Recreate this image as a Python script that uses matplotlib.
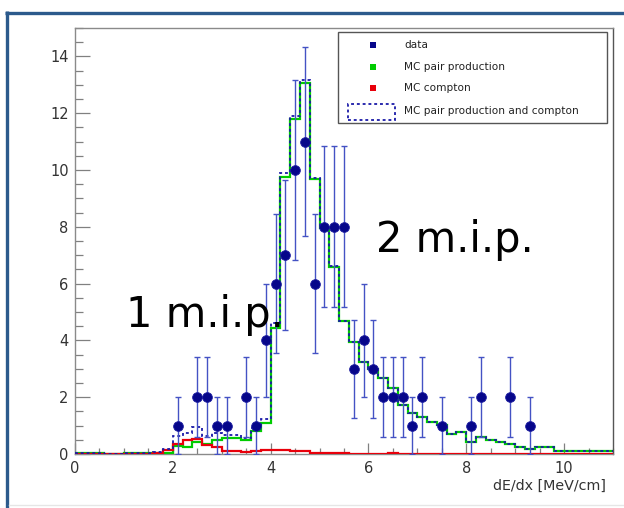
import numpy as np
import matplotlib
matplotlib.use("Agg")
import matplotlib.pyplot as plt
from matplotlib.ticker import MultipleLocator
from matplotlib.patches import Rectangle
from matplotlib.lines import Line2D

# ---------------- data ----------------
bin_edges = np.round(np.arange(0, 11.0001, 0.2), 3)

pair_production = [
    0.03, 0.03, 0.03, 0.0, 0.0, 0.04, 0.04, 0.04, 0.03, 0.05,
    0.28, 0.25, 0.43, 0.35, 0.50, 0.55, 0.55, 0.50, 0.80, 1.08,
    4.45, 9.75, 11.80, 13.08, 9.70, 7.95, 6.60, 4.67, 3.93, 3.23,
    2.99, 2.67, 2.31, 1.73, 1.43, 1.32, 1.14, 1.02, 0.71, 0.79,
    0.43, 0.61, 0.49, 0.42, 0.34, 0.26, 0.16, 0.24, 0.24, 0.09,
    0.09, 0.12, 0.09, 0.09, 0.09,
]
compton = [
    0.0, 0.0, 0.0, 0.0, 0.0, 0.0, 0.0, 0.0, 0.04, 0.14,
    0.36, 0.48, 0.52, 0.30, 0.23, 0.12, 0.12, 0.06, 0.10, 0.14,
    0.15, 0.14, 0.09, 0.09, 0.03, 0.02, 0.02, 0.02, 0.01, 0.0,
    0.0, 0.0, 0.02, 0.0, 0.0, 0.0, 0.0, 0.0, 0.0, 0.0,
    0.0, 0.0, 0.0, 0.0, 0.0, 0.0, 0.0, 0.0, 0.0, 0.0,
    0.0, 0.0, 0.0, 0.0, 0.0,
]

data_x = [2.1, 2.5, 2.7, 2.9, 3.1, 3.5, 3.7, 3.9, 4.1, 4.3, 4.5, 4.7, 4.9,
          5.1, 5.3, 5.5, 5.7, 5.9, 6.1, 6.3, 6.5, 6.7, 6.9, 7.1, 7.5, 8.1,
          8.3, 8.9, 9.3]
data_y = [1, 2, 2, 1, 1, 2, 1, 4, 6, 7, 10, 11, 6, 8, 8, 8, 3, 4, 3, 2, 2,
          2, 1, 2, 1, 1, 2, 2, 1]

legend_labels = ["data", "MC pair production", "MC compton",
                 "MC pair production and compton"]
x_label = "dE/dx [MeV/cm]"
annotations = [("1 m.i.p.", 1.04, 4.48), ("2 m.i.p.", 6.16, 7.13)]

# ---------------- figure ----------------
W, H = 624, 508
fig = plt.figure(figsize=(W / 100, H / 100), dpi=100)
fig.patch.set_facecolor("white")

# slide frame
frame_col = "#2c5a8c"
fig.add_artist(Line2D([6.5 / W, 6.5 / W], [0, 1 - 11 / H], transform=fig.transFigure,
                      color=frame_col, lw=2.4, solid_capstyle="butt"))
fig.add_artist(Line2D([5.3 / W, 1], [1 - 12.7 / H, 1 - 12.7 / H], transform=fig.transFigure,
                      color=frame_col, lw=2.4, solid_capstyle="butt"))
fig.add_artist(Line2D([9 / W, 1], [1 - 505 / H, 1 - 505 / H], transform=fig.transFigure,
                      color="#e6e6e6", lw=1.0))

L, R, T, B = 75, 613, 28, 454
ax = fig.add_axes([L / W, 1 - B / H, (R - L) / W, (B - T) / H])
ax.set_xlim(0, 11)
ax.set_ylim(0, 15)

pp = np.array(pair_production)
cp = np.array(compton)
tot = pp + cp

ax.stairs(pp, bin_edges, color="#00cc00", lw=1.6, baseline=None, zorder=3)
ax.stairs(cp, bin_edges, color="#e8000b", lw=1.6, baseline=None, zorder=4)
ax.stairs(tot, bin_edges, color="#1a1aa8", lw=1.3, linestyle=(0, (1.6, 1.6)),
          baseline=None, zorder=5)

dy = np.sqrt(np.array(data_y, dtype=float))
ax.errorbar(data_x, data_y, yerr=dy, fmt="none", ecolor="#4452c4", elinewidth=1.0,
            capsize=2.2, capthick=1.0, zorder=6)
ax.plot(data_x, data_y, "o", color="#06068a", ms=7.0, mec="#1c1ca0", mew=0.6,
        zorder=7, linestyle="none")

for txt, xx, yy in annotations:
    ax.text(xx, yy, txt, fontsize=30, color="black", va="baseline", ha="left",
            family="DejaVu Sans", zorder=8)

# axes styling
for sp in ax.spines.values():
    sp.set_color("#8a8a8a")
    sp.set_linewidth(1.0)
ax.spines["right"].set_color("#555555")

ax.xaxis.set_major_locator(MultipleLocator(2))
ax.xaxis.set_minor_locator(MultipleLocator(0.5))
ax.yaxis.set_major_locator(MultipleLocator(2))
ax.yaxis.set_minor_locator(MultipleLocator(0.5))
ax.tick_params(axis="x", which="major", direction="in", length=8, width=0.9,
               color="#808080", pad=5.2, labelsize=10.5, labelcolor="#333333")
ax.tick_params(axis="x", which="minor", direction="in", length=4.2, width=0.9,
               color="#808080")
ax.tick_params(axis="y", which="major", direction="in", length=11, width=0.9,
               color="#808080", pad=4.5, labelsize=10.5, labelcolor="#333333")
ax.tick_params(axis="y", which="minor", direction="in", length=5.8, width=0.9,
               color="#808080")
ax.tick_params(top=False, right=False, which="both")

ax.text(1 - 7 / (R - L), -32 / (B - T), x_label, transform=ax.transAxes,
        ha="right", va="center", fontsize=10.3, color="#333333")

# legend (drawn manually in pixel-like axes coordinates)
def ax_pt(px, py):
    return ((px - L) / (R - L), (B - py) / (B - T))

lx0, ly0 = ax_pt(338, 123)
lx1, ly1 = ax_pt(607, 32)
ax.add_patch(Rectangle((lx0, ly0), lx1 - lx0, ly1 - ly0, transform=ax.transAxes,
                       facecolor="white", edgecolor="#555555", lw=1.0, zorder=10))
rows = [45, 67.3, 88.3, 111.3]
sq_cols = ["#06068a", "#00cc00", "#e8000b"]
for i, lab in enumerate(legend_labels):
    tx, ty = ax_pt(404, rows[i])
    ax.text(tx, ty, lab, transform=ax.transAxes, fontsize=7.6, color="#222222",
            va="center", ha="left", zorder=11)
    if i < 3:
        mx, my = ax_pt(372.5, rows[i])
        ax.plot([mx], [my], "s", transform=ax.transAxes, color=sq_cols[i], ms=5.0,
                mew=0, zorder=11, clip_on=False)
rx0, ry0 = ax_pt(348, 120)
rx1, ry1 = ax_pt(395, 104)
ax.add_patch(Rectangle((rx0, ry0), rx1 - rx0, ry1 - ry0, transform=ax.transAxes,
                       facecolor="none", edgecolor="#1a1aa8", lw=1.3,
                       linestyle=(0, (1.6, 1.6)), zorder=11))

fig.savefig("out.png", dpi=100)
